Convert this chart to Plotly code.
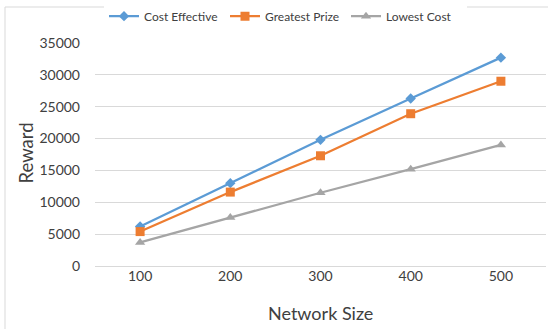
import plotly.graph_objects as go

# Network sizes (categories) and the reward reached by each strategy
network_sizes = ["100", "200", "300", "400", "500"]
cost_effective = [6200, 13000, 19800, 26300, 32700]
greatest_prize = [5400, 11600, 17300, 23900, 29000]
lowest_cost = [3700, 7600, 11500, 15200, 19000]

y_ticks = [0, 5000, 10000, 15000, 20000, 25000, 30000, 35000]

FONT = "Lato"
TEXT = "#404040"

series = [
    ("Cost Effective", cost_effective, "#5b9bd5", "diamond", 8),
    ("Greatest Prize", greatest_prize, "#ed7d31", "square", 9),
    ("Lowest Cost", lowest_cost, "#a5a5a5", "triangle-up", 9),
]

fig = go.Figure()
for name, values, color, symbol, size in series:
    fig.add_trace(go.Scatter(
        x=network_sizes, y=values, name=name, mode="lines+markers",
        line=dict(color=color, width=2.25),
        marker=dict(color=color, symbol=symbol, size=size),
    ))

W, H = 548, 329
L, R, T, B = 95, 2, 43, 63

fig.update_layout(
    width=W, height=H,
    margin=dict(l=L, r=R, t=T, b=B),
    paper_bgcolor="white", plot_bgcolor="white",
    font=dict(family=FONT, color=TEXT, size=14),
    showlegend=True,
    legend=dict(
        orientation="h", x=(104 - L) / (W - L - R), xanchor="left",
        y=0.995, yanchor="top", yref="container",
        font=dict(size=12, color=TEXT),
        itemwidth=30, entrywidth=76, tracegroupgap=0,
    ),
    xaxis=dict(
        type="category", range=[-0.5, 4.5], showgrid=False, zeroline=False,
        showline=False, ticks="", tickfont=dict(size=14, color=TEXT),
    ),
    yaxis=dict(
        range=[0, 35000], tickvals=y_ticks, ticktext=[str(v) for v in y_ticks],
        showgrid=True, gridcolor="#d9d9d9", gridwidth=1,
        zeroline=True, zerolinecolor="#d9d9d9", zerolinewidth=1,
        showline=False, ticks="", ticklabelstandoff=14,
        tickfont=dict(size=14, color=TEXT),
    ),
)

# Axis titles
fig.add_annotation(
    text="Network Size", xref="paper", yref="paper",
    x=0.5, y=-(313 - (H - B)) / (H - T - B),
    xanchor="center", yanchor="middle", showarrow=False,
    font=dict(size=18, color=TEXT),
)
fig.add_annotation(
    text="Reward", xref="paper", yref="paper", textangle=-90,
    x=-(L - 25) / (W - L - R), y=1 - (153.5 - T) / (H - T - B),
    xanchor="center", yanchor="middle", showarrow=False,
    font=dict(size=18.5, color=TEXT),
)

# Light border of the chart area
fig.add_shape(
    type="rect", xref="paper", yref="paper",
    x0=-(L - 5) / (W - L - R), x1=1.05,
    y0=-0.5, y1=1 + (T - 7) / (H - T - B),
    line=dict(color="#d9d9d9", width=1), fillcolor="rgba(0,0,0,0)",
    layer="below",
)

fig.write_html("out.html")
